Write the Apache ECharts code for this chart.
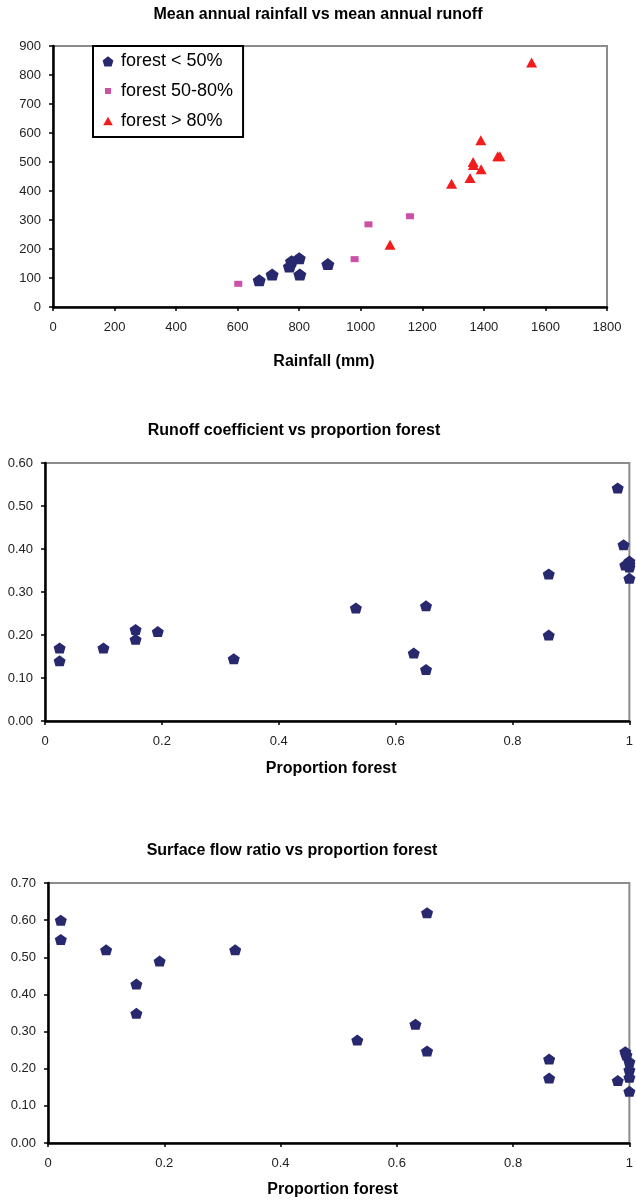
<!DOCTYPE html>
<html><head><meta charset="utf-8">
<script src="https://cdn.jsdelivr.net/npm/echarts@6/dist/echarts.min.js"></script>
<style>html,body{margin:0;padding:0;background:#fff}#c{width:636px;height:1200px}</style>
</head><body><div id="c"></div>
<script>
// ---------- data ----------
const chartTitles = ['Mean annual rainfall vs mean annual runoff', 'Runoff coefficient vs proportion forest', 'Surface flow ratio vs proportion forest'];
const xAxisNames = ['Rainfall (mm)', 'Proportion forest', 'Proportion forest'];
const legendNames = ['forest < 50%', 'forest 50-80%', 'forest > 80%'];
// [rainfall mm, runoff mm]
const rainLow = [[670, 92], [712, 112], [768, 140], [775, 158], [800, 168], [802, 112], [893, 148]];
const rainMid = [[602, 80], [980, 165], [1025, 285], [1160, 313]];
const rainHigh = [[1095, 215], [1295, 425], [1355, 445], [1365, 500], [1366, 490], [1390, 575], [1391, 475], [1445, 520], [1452, 520], [1555, 843]];
// [proportion forest, runoff coefficient]
const coefProp = [[0.025, 0.17], [0.025, 0.14], [0.10, 0.17], [0.155, 0.213], [0.155, 0.19], [0.193, 0.208], [0.323, 0.145],
  [0.532, 0.263], [0.631, 0.158], [0.652, 0.268], [0.652, 0.12],
  [0.862, 0.342], [0.862, 0.20], [0.98, 0.542], [0.99, 0.41], [0.993, 0.363], [1.0, 0.365], [1.0, 0.372], [1.0, 0.358], [1.0, 0.332]];
// [proportion forest, surface flow ratio]
const surfProp = [[0.022, 0.60], [0.022, 0.548], [0.10, 0.52], [0.152, 0.428], [0.152, 0.349], [0.192, 0.49], [0.322, 0.52],
  [0.532, 0.277], [0.632, 0.32], [0.652, 0.62], [0.652, 0.248],
  [0.862, 0.226], [0.862, 0.175], [0.98, 0.168], [0.993, 0.246], [0.995, 0.237], [1.0, 0.219], [1.0, 0.197], [1.0, 0.177], [1.0, 0.139]];

// ---------- style ----------
const FONT = 'Liberation Sans, Arial, Helvetica, sans-serif';
const NAVY = '#28286f', PINK = '#cc4fa8', RED = '#f21c1c';
const PENT = 'path://M5,0 L10,4 L8.4,10 L1.6,10 L0,4 Z';
const LEG_PENT = 'path://M0,0 L0.01,0 M10,10 L9.99,10 M5,1 L9.5,4.5 L8,9.5 L2,9.5 L0.5,4.5 Z';
const LEG_SQ = 'path://M0,0 L0.01,0 M10,10 L9.99,10 M2.5,2.5 L7.5,2.5 L7.5,7.5 L2.5,7.5 Z';
const LEG_TRI = 'path://M0,0 L0.01,0 M10,10 L9.99,10 M5,1.5 L9,8.5 L1,8.5 Z';

const grids = [
  {left: 53, top: 46, width: 554, height: 261},
  {left: 45, top: 463, width: 586, height: 258},
  {left: 48, top: 883, width: 584, height: 260}
];
const xCfg = [{min: 0, max: 1800, interval: 200, dec: 0}, {min: 0, max: 1, interval: 0.2}, {min: 0, max: 1, interval: 0.2}];
const yCfg = [{min: 0, max: 900, interval: 100, dec: 0}, {min: 0, max: 0.6, interval: 0.1, dec: 2}, {min: 0, max: 0.7, interval: 0.1, dec: 2}];
const nameGaps = [47, 40, 39];
const titlePos = [[318, 7], [294, 423], [292, 843]];

const axisLine = {show: true, onZero: false, lineStyle: {color: '#000', width: 2.5}};
const axisTick = {show: true, inside: false, length: 4, lineStyle: {color: '#000', width: 1.5}};

const option = {
  animation: false,
  backgroundColor: '#fff',
  textStyle: {fontFamily: FONT},
  title: chartTitles.map((t, i) => ({
    text: t, left: titlePos[i][0], top: titlePos[i][1], textAlign: 'center', padding: 0,
    textStyle: {fontFamily: FONT, fontSize: 16, fontWeight: 'bold', color: '#000'}
  })),
  legend: {
    data: [{name: legendNames[0], icon: LEG_PENT}, {name: legendNames[1], icon: LEG_SQ}, {name: legendNames[2], icon: LEG_TRI}],
    orient: 'vertical', left: 93, top: 46, padding: [6, 10, 7, 9], itemGap: 12,
    itemWidth: 12, itemHeight: 12, borderColor: '#000', borderWidth: 2, backgroundColor: '#fff',
    textStyle: {fontFamily: FONT, fontSize: 18, color: '#000', padding: [0, 0, 0, 2]}
  },
  grid: grids.map(g => Object.assign({show: true, borderColor: '#8c8c8c', borderWidth: 2, backgroundColor: '#fff', containLabel: false}, g)),
  xAxis: xCfg.map((c, i) => ({
    type: 'value', gridIndex: i, min: c.min, max: c.max, interval: c.interval,
    name: xAxisNames[i], nameLocation: 'middle', nameGap: nameGaps[i],
    nameTextStyle: {fontFamily: FONT, fontSize: 16, fontWeight: 'bold', color: '#000', padding: [0, 12, 0, 0]},
    axisLine, axisTick, splitLine: {show: false},
    axisLabel: {margin: 14, fontSize: 13, color: '#222', fontFamily: FONT,
      formatter: v => c.dec === undefined ? String(+v.toFixed(1)) : v.toFixed(c.dec)}
  })),
  yAxis: yCfg.map((c, i) => ({
    type: 'value', gridIndex: i, min: c.min, max: c.max, interval: c.interval,
    axisLine, axisTick, splitLine: {show: false},
    axisLabel: {margin: 12, fontSize: 13, color: '#222', fontFamily: FONT, formatter: v => v.toFixed(c.dec)}
  })),
  series: [
    {type: 'scatter', name: legendNames[0], xAxisIndex: 0, yAxisIndex: 0, data: rainLow, symbol: PENT, symbolSize: [13, 12], itemStyle: {color: NAVY, opacity: 1}},
    {type: 'scatter', name: legendNames[1], xAxisIndex: 0, yAxisIndex: 0, data: rainMid, symbol: 'rect', symbolSize: [8, 6], itemStyle: {color: PINK, opacity: 1}},
    {type: 'scatter', name: legendNames[2], xAxisIndex: 0, yAxisIndex: 0, data: rainHigh, symbol: 'triangle', symbolSize: [11, 10], itemStyle: {color: RED, opacity: 1}},
    {type: 'scatter', name: 'Runoff coefficient', xAxisIndex: 1, yAxisIndex: 1, data: coefProp, symbol: PENT, symbolSize: [12, 11], itemStyle: {color: NAVY, opacity: 1}},
    {type: 'scatter', name: 'Surface flow ratio', xAxisIndex: 2, yAxisIndex: 2, data: surfProp, symbol: PENT, symbolSize: [12, 11], itemStyle: {color: NAVY, opacity: 1}}
  ]
};
const chart = echarts.init(document.getElementById('c'), null, {renderer: 'canvas'});
chart.setOption(option);
</script>
</body></html>
